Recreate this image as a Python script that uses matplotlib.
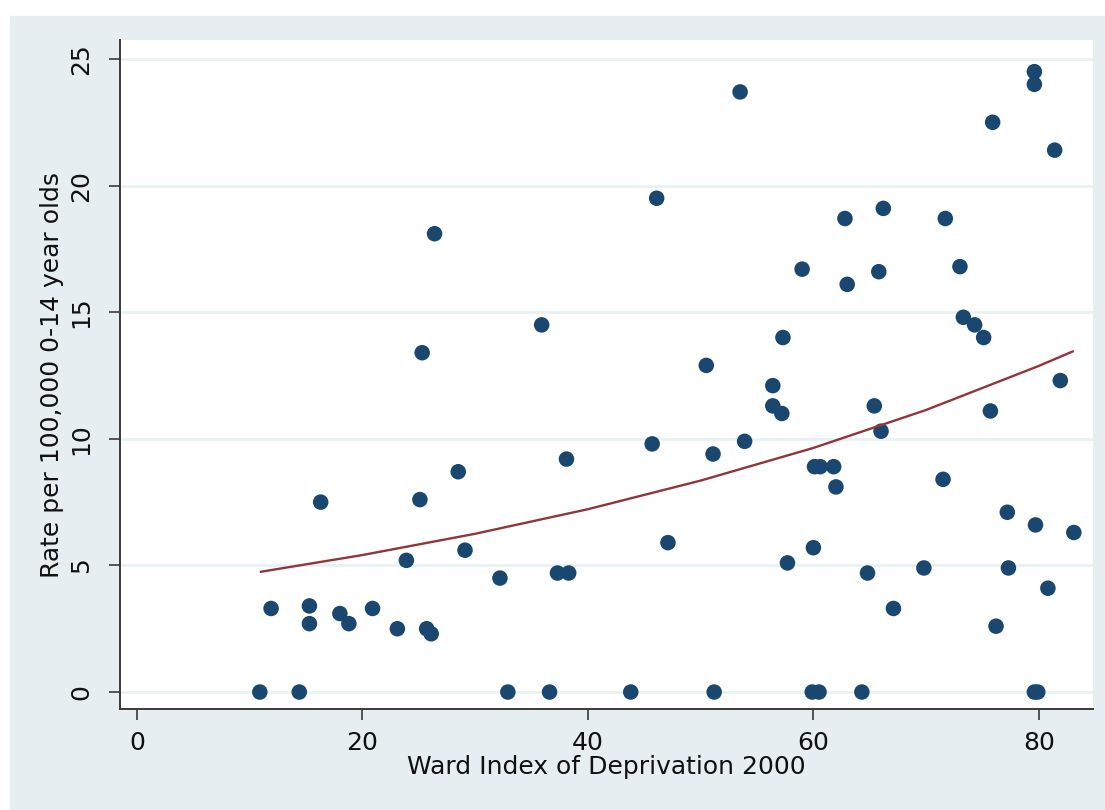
import matplotlib
matplotlib.use("Agg")
import matplotlib.pyplot as plt
from matplotlib.patches import Rectangle

# Ward deprivation score vs rate per 100,000 children aged 0-14
deprivation = [
    10.9, 11.9, 14.4, 15.3, 15.3, 16.3, 18.0, 18.8, 20.9, 23.1,
    23.9, 25.1, 25.3, 25.7, 26.1, 26.4, 28.5, 29.1, 32.2, 32.9,
    35.9, 36.6, 37.3, 38.3, 38.1, 43.8, 45.7, 46.1, 47.1, 50.5,
    51.1, 51.2, 53.5, 53.9, 56.4, 56.4, 57.2, 57.3, 57.7, 59.0,
    60.0, 60.1, 60.6, 59.9, 60.5, 61.8, 62.0, 62.8, 63.0, 64.3,
    64.8, 65.4, 65.8, 66.0, 66.2, 67.1, 69.8, 71.5, 71.7, 73.0,
    73.3, 74.3, 75.1, 75.7, 75.9, 76.2, 77.2, 77.3, 79.6, 79.6,
    79.7, 79.6, 79.9, 80.8, 81.4, 81.9, 83.1,
]
rate = [
    0.0, 3.3, 0.0, 3.4, 2.7, 7.5, 3.1, 2.7, 3.3, 2.5,
    5.2, 7.6, 13.4, 2.5, 2.3, 18.1, 8.7, 5.6, 4.5, 0.0,
    14.5, 0.0, 4.7, 4.7, 9.2, 0.0, 9.8, 19.5, 5.9, 12.9,
    9.4, 0.0, 23.7, 9.9, 12.1, 11.3, 11.0, 14.0, 5.1, 16.7,
    5.7, 8.9, 8.9, 0.0, 0.0, 8.9, 8.1, 18.7, 16.1, 0.0,
    4.7, 11.3, 16.6, 10.3, 19.1, 3.3, 4.9, 8.4, 18.7, 16.8,
    14.8, 14.5, 14.0, 11.1, 22.5, 2.6, 7.1, 4.9, 24.5, 24.0,
    6.6, 0.0, 0.0, 4.1, 21.4, 12.3, 6.3,
]

# fitted trend
fit_x = [11, 20, 30, 40, 50, 60, 70, 80, 83]
fit_y = [4.75, 5.41, 6.25, 7.22, 8.35, 9.64, 11.14, 12.88, 13.45]

x_ticks = [0, 20, 40, 60, 80]
y_ticks = [0, 5, 10, 15, 20, 25]

navy = "#1A476F"
maroon = "#90353B"
panel = "#E7EEF1"
grid = "#E8F1F2"
axis_col = "#3A3A3A"

fig = plt.figure(figsize=(11.05, 8.1), dpi=100, facecolor="white")
fig.patches.append(Rectangle((10 / 1105, 0), 1, (810 - 16) / 810,
                             transform=fig.transFigure, color=panel, zorder=-10))

ax = fig.add_axes([120 / 1105, 101 / 810, 973 / 1105, 669 / 810])
ax.set_zorder(5)
ax.set_facecolor("white")

for yt in y_ticks:
    ax.axhline(yt, color=grid, lw=2, zorder=1)

ax.scatter(deprivation, rate, s=125, color=navy, edgecolors="none", zorder=3)
ax.plot(fit_x, fit_y, color=maroon, lw=1.7, zorder=4)

ax.set_xlim(-1.5, 84.8)
ax.set_ylim(-0.67, 25.75)
ax.set_xticks(x_ticks)
ax.set_yticks(y_ticks)

for side in ["top", "right"]:
    ax.spines[side].set_visible(False)
for side in ["left", "bottom"]:
    ax.spines[side].set_color(axis_col)
    ax.spines[side].set_linewidth(1.4)

ax.tick_params(axis="both", direction="out", length=8, width=1.2,
               color=axis_col, labelsize=18, labelcolor="#111111")
ax.tick_params(axis="x", pad=8)
ax.tick_params(axis="y", pad=11)
for lbl in ax.get_yticklabels():
    lbl.set_rotation(90)
    lbl.set_va("center")

ax.set_xlabel("Ward Index of Deprivation 2000", fontsize=18, color="#111111", labelpad=0)
ax.set_ylabel("Rate per 100,000 0-14 year olds", fontsize=18, color="#111111", labelpad=4)

fig.savefig("out.png", dpi=100, facecolor=fig.get_facecolor())
